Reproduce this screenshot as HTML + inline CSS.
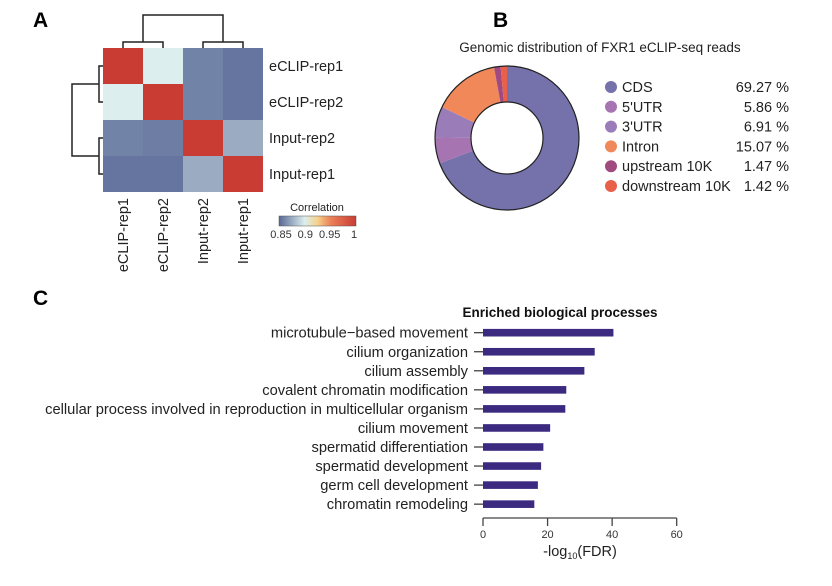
<!DOCTYPE html>
<html><head><meta charset="utf-8"><style>
body{margin:0;background:#fff;}
svg{display:block;font-family:"Liberation Sans",Arial,sans-serif;}
</style></head><body>
<svg id="fig" width="832" height="586" viewBox="0 0 832 586">
<text x="33" y="27" font-size="21" font-weight="bold">A</text>
<text x="493" y="27" font-size="21" font-weight="bold">B</text>
<text x="33" y="305" font-size="21" font-weight="bold">C</text>
<g id="heat"></g>
<g id="pie"></g>
<g id="bars"></g>
</svg>
<script>
const NS="http://www.w3.org/2000/svg";
function mk(p,t,a,txt){const e=document.createElementNS(NS,t);for(const k in a)e.setAttribute(k,a[k]);if(txt!==undefined)e.textContent=txt;p.appendChild(e);return e;}

// ---- Heatmap data ----
const heatRows=["eCLIP-rep1","eCLIP-rep2","Input-rep2","Input-rep1"];
const heatCols=["eCLIP-rep1","eCLIP-rep2","Input-rep2","Input-rep1"];
const heatVals=[[1,0.9,0.86,0.855],[0.9,1,0.86,0.855],[0.86,0.858,1,0.875],[0.855,0.855,0.875,1]];
const cbTicks=[0.85,0.9,0.95,1];

function corrColor(v){
  const stops=[[0.85,[88,104,150]],[0.9,[220,238,238]],[0.925,[246,210,140]],[0.95,[236,130,90]],[1,[200,60,52]]];
  v=Math.max(0.85,Math.min(1,v));
  for(let i=0;i<stops.length-1;i++){const a=stops[i],b=stops[i+1];if(v<=b[0]){const t=(v-a[0])/(b[0]-a[0]);return "rgb("+a[1].map((c,j)=>Math.round(c+(b[1][j]-c)*t)).join(",")+")";}}
  return "rgb(200,60,52)";
}
const H=document.getElementById("heat");
const hx=103,hy=48,cw=40,ch=36;
heatVals.forEach((row,r)=>row.forEach((v,c)=>{
  const e=mk(H,"rect",{x:hx+c*cw,y:hy+r*ch,width:cw,height:ch,fill:corrColor(v)});
  
  
}));
heatRows.forEach((n,r)=>{const e=mk(H,"text",{x:269,y:hy+r*ch+ch/2+5,"font-size":14.5,fill:"#222"},n);
  });
heatCols.forEach((n,c)=>{const x=hx+c*cw+cw/2+5,y=198;const e=mk(H,"text",{x:x,y:y,"font-size":14.5,fill:"#222","text-anchor":"end",transform:"rotate(-90 "+x+" "+y+")"},n);
  });
const dp={stroke:"#222","stroke-width":1.5,fill:"none"};
let d=mk(H,"path",Object.assign({d:"M123,48V42H163V48M203,48V42H243V48M143,42V15H223V42"},dp));

d=mk(H,"path",Object.assign({d:"M103,66H99V102H103M103,138H99V174H103M99,84H72V156H99"},dp));

const defs=mk(H,"defs",{});const lg=mk(defs,"linearGradient",{id:"cb"});
[[0,0.85],[0.333,0.9],[0.5,0.925],[0.667,0.95],[1,1]].forEach(s=>mk(lg,"stop",{offset:s[0],"stop-color":corrColor(s[1])}));
let cb=mk(H,"rect",{x:279,y:216,width:77,height:10,fill:"url(#cb)",stroke:"#555","stroke-width":0.5});

let ct=mk(H,"text",{x:317,y:211,"font-size":11,"text-anchor":"middle",fill:"#222"},"Correlation");

cbTicks.forEach(t=>{const x=281+(t-0.85)/0.15*73;const e=mk(H,"text",{x:x,y:238,"font-size":11,"text-anchor":"middle",fill:"#333"},String(t));
  });

// ---- Donut data ----
const pieLabels=["CDS","5'UTR","3'UTR","Intron","upstream 10K","downstream 10K"];
const pieValues=[69.27,5.86,6.91,15.07,1.47,1.42];
const pieColors=["#7471ab","#a674b0","#9a7cb8","#f0885a","#a04a80","#e8604a"];
const P=document.getElementById("pie");
const cx=507,cy=138,R=72,r=36;
let tt=mk(P,"text",{x:600,y:52,"font-size":13.5,"text-anchor":"middle",fill:"#222"},"Genomic distribution of FXR1 eCLIP-seq reads");

const tot=pieValues.reduce((a,b)=>a+b,0);let ang=0;
pieValues.forEach((v,i)=>{
  const a0=ang,a1=ang+v/tot*2*Math.PI;ang=a1;
  const p=(rad,a)=>[cx+rad*Math.sin(a),cy-rad*Math.cos(a)];
  const large=(a1-a0)>Math.PI?1:0;
  const o0=p(R,a0),o1=p(R,a1),i1=p(r,a1),i0=p(r,a0);
  const e=mk(P,"path",{d:`M${o0}A${R},${R} 0 ${large} 1 ${o1}L${i1}A${r},${r} 0 ${large} 0 ${i0}Z`,fill:pieColors[i]});
  
});
mk(P,"circle",{cx:cx,cy:cy,r:R,fill:"none",stroke:"#222","stroke-width":1.2});
mk(P,"circle",{cx:cx,cy:cy,r:r,fill:"#fff",stroke:"#222","stroke-width":1.2});
pieLabels.forEach((n,i)=>{
  const y=87+i*19.8;
  const g=mk(P,"g",{});
  mk(g,"circle",{cx:611,cy:y,r:6,fill:pieColors[i]});
  mk(g,"text",{x:622,y:y+5,"font-size":14.5,fill:"#222"},n);
  mk(g,"text",{x:789,y:y+5,"font-size":14.5,fill:"#222","text-anchor":"end"},pieValues[i].toFixed(2)+" %");
});

// ---- Bar chart data ----
const barCats=["microtubule\u2212based movement","cilium organization","cilium assembly","covalent chromatin modification","cellular process involved in reproduction in multicellular organism","cilium movement","spermatid differentiation","spermatid development","germ cell development","chromatin remodeling"];
const barVals=[40.4,34.6,31.4,25.8,25.5,20.8,18.7,18.0,17.0,15.9];
const xTicks=[0,20,40,60];
const B=document.getElementById("bars");
const x0=483,x1=676.7,xMax=60;
const xs=v=>x0+v/xMax*(x1-x0);
const ys=i=>332.7+i*19.05;
let bt=mk(B,"text",{x:560,y:317,"font-size":13.5,"font-weight":"bold","text-anchor":"middle",fill:"#111"},"Enriched biological processes");

barCats.forEach((c,i)=>{
  const y=ys(i);
  const l=mk(B,"text",{x:468,y:y+5,"font-size":14.7,"text-anchor":"end",fill:"#222"},c);
  
  mk(B,"line",{x1:474,x2:483,y1:y,y2:y,stroke:"#333","stroke-width":1.2});
  const b=mk(B,"rect",{x:xs(0),y:y-3.8,width:xs(barVals[i])-xs(0),height:7.6,fill:"#3b2a80"});
  
});
mk(B,"line",{x1:x0,x2:x1,y1:518,y2:518,stroke:"#444","stroke-width":1.3});
xTicks.forEach(t=>{
  mk(B,"line",{x1:xs(t),x2:xs(t),y1:518,y2:526,stroke:"#444","stroke-width":1.3});
  const e=mk(B,"text",{x:xs(t),y:538,"font-size":11,"text-anchor":"middle",fill:"#333"},String(t));
  
});
const xt=mk(B,"text",{x:580,y:556,"font-size":14.5,"text-anchor":"middle",fill:"#222"});

mk(xt,"tspan",{},"-log");mk(xt,"tspan",{"font-size":9,dy:3},"10");mk(xt,"tspan",{dy:-3},"(FDR)");
</script>
</body></html>
